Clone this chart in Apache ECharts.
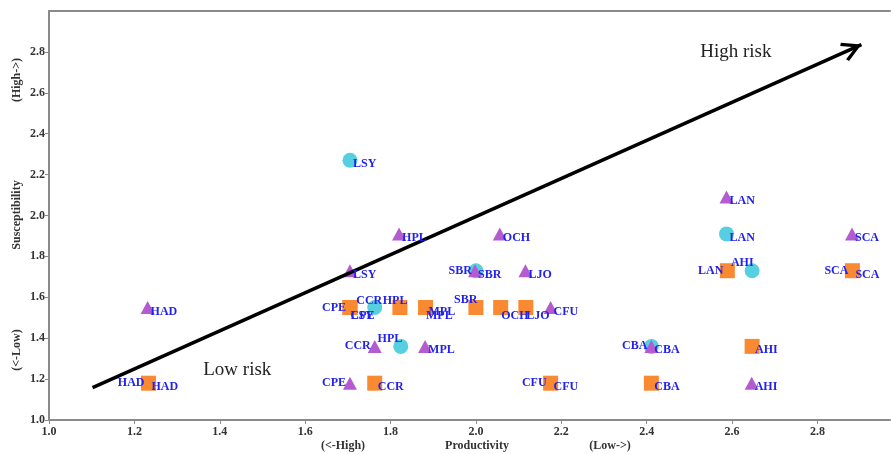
<!DOCTYPE html>
<html><head><meta charset="utf-8">
<script src="https://cdn.jsdelivr.net/npm/echarts@6/dist/echarts.min.js"></script>
<style>html,body{margin:0;padding:0;background:#fff}#c{width:891px;height:454px}</style>
</head><body><div id="c"></div><script>
// ---- data ----
const squareNames = ['HAD','CPE','LSY','HPL','MPL','SBR','OCH','LJO','CCR','CFU','LAN','SCA','AHI','CBA'];
const squareX = [1.233,1.705,1.705,1.822,1.882,2.000,2.058,2.117,1.763,2.175,2.589,2.882,2.647,2.411];
const squareY = [1.18,1.55,1.55,1.55,1.55,1.55,1.55,1.55,1.18,1.18,1.73,1.73,1.36,1.18];

const circleNames = ['LSY','SBR','CCR','HPL','LAN','AHI','CBA'];
const circleX = [1.705,2.000,1.763,1.824,2.587,2.647,2.411];
const circleY = [2.27,1.73,1.55,1.36,1.91,1.73,1.36];

const triangleNames = ['HAD','LSY','HPL','OCH','SBR','LJO','CFU','CCR','MPL','CPE','LAN','SCA','CBA','AHI'];
const triangleX = [1.231,1.705,1.820,2.056,1.998,2.116,2.175,1.763,1.881,1.705,2.587,2.881,2.411,2.646];
const triangleY = [1.55,1.73,1.91,1.91,1.73,1.73,1.55,1.36,1.36,1.18,2.09,1.91,1.36,1.18];

const annotationTexts = ['High risk','Low risk'];
const annotationX = [2.609, 1.441];
const annotationY = [2.799, 1.244];

const arrowX = [1.102, 2.903];
const arrowY = [1.158, 2.836];

const xAxisNames = ['(<-High)','Productivity','(Low->)'];
const yAxisNames = ['(High->)','Susceptibility','(<-Low)'];

// ---- label placement styles ----
const placements = {
  br: {align:'left', offset:[3,4]},
  b:  {align:'left', offset:[0.5,8]},
  l:  {align:'right', offset:[-4,0]},
  tl: {align:'right', offset:[1.5,-7.5]},
  tr: {align:'right', offset:[7.5,-7]}
};
const squarePlace = {HAD:['l','br'], CPE:['l','b'], LSY:['b'], HPL:['tr'], MPL:['br','b'], SBR:['tl'], OCH:['b'], LJO:['b'], CFU:['l','br'], LAN:['l'], SCA:['l','br']};
const circlePlace = {SBR:['l'], CCR:['tr'], HPL:['tl'], AHI:['tl'], CBA:['l']};
const trianglePlace = {CCR:['l'], CPE:['l']};

const FONT = '"Liberation Serif", "Times New Roman", serif';
const BLUE = '#2222ec';

function pts(names, xs, ys){ return names.map((n,i)=>({name:n, value:[xs[i], ys[i]]})); }
const labelData = [];
function addLabels(names, xs, ys, map){
  names.forEach((n,i)=>{
    (map[n] || ['br']).forEach(p=>{
      const pl = placements[p];
      labelData.push({name:n, value:[xs[i], ys[i]], label:{align:pl.align, offset:pl.offset}});
    });
  });
}
addLabels(circleNames, circleX, circleY, circlePlace);
addLabels(squareNames, squareX, squareY, squarePlace);
addLabels(triangleNames, triangleX, triangleY, trianglePlace);

const chevron = 'path://M10,-20L10,-20M-10,0L-10,0M30,0L30,0M10,0L20,18L17.2,20L10,6.5L2.8,20L0,18Z';

const chart = echarts.init(document.getElementById('c'), null, {renderer:'canvas'});
const axisColor = '#8a8a8a';
const option = {
  animation:false,
  backgroundColor:'#fff',
  grid:{left:49, right:1, top:11, bottom:34},
  xAxis:[{
    type:'value', min:1.0, max:2.97, interval:0.2,
    axisLine:{show:true, lineStyle:{color:axisColor, width:2}},
    axisTick:{show:true, length:4, lineStyle:{color:axisColor, width:1}},
    splitLine:{show:false},
    axisLabel:{color:'#333', fontFamily:FONT, fontWeight:'bold', fontSize:12, margin:6, showMaxLabel:false,
      formatter:v=>v.toFixed(1)}
  },{
    type:'value', position:'top', min:1.0, max:2.97,
    axisLine:{show:true, onZero:false, lineStyle:{color:axisColor, width:2}},
    axisTick:{show:false}, axisLabel:{show:false}, splitLine:{show:false}
  }],
  yAxis:{
    type:'value', min:1.0, max:3.0, interval:0.2,
    axisLine:{show:true, lineStyle:{color:axisColor, width:2}},
    axisTick:{show:true, length:4, lineStyle:{color:axisColor, width:1}},
    splitLine:{show:false},
    axisLabel:{color:'#333', fontFamily:FONT, fontWeight:'bold', fontSize:12, margin:4, showMaxLabel:false,
      formatter:v=>v.toFixed(1)}
  },
  graphic:[
    {type:'text', x:343, y:446, style:{text:xAxisNames[0], font:'bold 12px '+FONT, fill:'#333', align:'center', verticalAlign:'middle'}},
    {type:'text', x:477, y:446, style:{text:xAxisNames[1], font:'bold 12px '+FONT, fill:'#333', align:'center', verticalAlign:'middle'}},
    {type:'text', x:610, y:446, style:{text:xAxisNames[2], font:'bold 12px '+FONT, fill:'#333', align:'center', verticalAlign:'middle'}},
    {type:'text', x:17, y:80, rotation:Math.PI/2, style:{text:yAxisNames[0], font:'bold 12px '+FONT, fill:'#333', align:'center', verticalAlign:'middle'}},
    {type:'text', x:17, y:215, rotation:Math.PI/2, style:{text:yAxisNames[1], font:'bold 12px '+FONT, fill:'#333', align:'center', verticalAlign:'middle'}},
    {type:'text', x:17, y:350, rotation:Math.PI/2, style:{text:yAxisNames[2], font:'bold 12px '+FONT, fill:'#333', align:'center', verticalAlign:'middle'}}
  ],
  series:[
    {type:'scatter', name:'Annotations', data:pts(annotationTexts, annotationX, annotationY),
     symbol:'circle', symbolSize:1, itemStyle:{color:'rgba(0,0,0,0)', opacity:1}, silent:true, z:1,
     label:{show:true, position:'inside', formatter:'{b}', color:'#222', fontFamily:FONT, fontSize:19, fontWeight:'normal'},
     markLine:{silent:true, symbol:['none', chevron], symbolSize:40, animation:false,
       lineStyle:{color:'#000', width:3.5, type:'solid'}, label:{show:false},
       data:[[{coord:[arrowX[0], arrowY[0]]},{coord:[arrowX[1], arrowY[1]]}]]}
    },
    {type:'scatter', name:'Circle', data:pts(circleNames, circleX, circleY), symbol:'circle', symbolSize:15,
     itemStyle:{color:'#56d0e0', opacity:1}, z:2},
    {type:'scatter', name:'Square', data:pts(squareNames, squareX, squareY), symbol:'rect', symbolSize:15,
     itemStyle:{color:'#f98a32', opacity:1}, z:3},
    {type:'scatter', name:'Triangle', data:pts(triangleNames, triangleX, triangleY), symbol:'triangle', symbolSize:[14,13],
     itemStyle:{color:'#b45ccf', opacity:1}, z:4},
    {type:'scatter', name:'Labels', data:labelData, symbol:'circle', symbolSize:1, itemStyle:{color:'rgba(0,0,0,0)', opacity:1}, silent:true, z:10,
     label:{show:true, position:'inside', formatter:'{b}', color:BLUE, fontFamily:FONT, fontSize:12, fontWeight:'bold', verticalAlign:'middle'}}
  ]
};
chart.setOption(option);
</script></body></html>
